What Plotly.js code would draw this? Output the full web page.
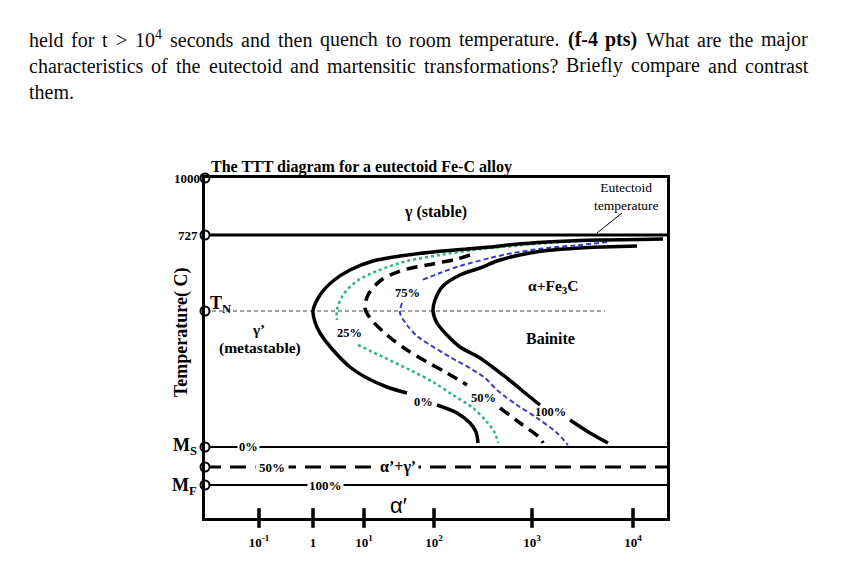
<!DOCTYPE html>
<html><head><meta charset="utf-8">
<script src="https://cdn.plot.ly/plotly-3.0.1.min.js"></script>
<style>html,body{margin:0;padding:0;background:#fff}#chart{width:851px;height:584px}</style>
</head><body><div id="chart"></div>
<script>
// ---------- data (diagram units: x = schematic log-time position, y = schematic temperature position) ----------
const xRange = [0, 462];
const yRange = [0, 340];
const tickPos = [54, 108, 159, 229, 327, 428];
const tickText = ['10<sup>-1</sup>', '1', '10<sup>1</sup>', '10<sup>2</sup>', '10<sup>3</sup>', '10<sup>4</sup>'];
// levels: 1000, 727, T_N, M_S, 50% martensite, M_F
const levelNames = ['1000', '727', 'T_N', 'M_S', '50%', 'M_F'];
const levelY = [340, 283, 207, 71, 51, 33];
const tnLineEnd = 400;

// 0% transformation curve (solid black)
const c0X = [458,435,398,375,342,308,285,262,228,195,168,145,128,115,108,110,115,128,145,162,182,202,null,232,252,265,271,273];
const c0Y = [279,278.5,278,277.5,276,273.5,271,269,266,262,257,248,237,223,207,196,185,168,151,140,131,125,null,113,105,95,86,75];
// 25% (green dotted)
const c25X = [402,375,342,308,285,268,235,202,172,152,138,132,132,null,153,178,205,228,248,268,282,290,293];
const c25Y = [278,277,275,272,270,268,263,257,247,237,223,208,198,null,173,161,148,136,123,110,96,85,75];
// 50% (black dashed)
const c50X = [265,252,222,195,175,163,160,165,182,202,222,242,262,null,295,315,335,338];
const c50Y = [263,259,253,247,237,223,210,200,183,168,156,145,133,null,110,95,80,75];
// 75% (blue dashed)
const c75X = [402,375,342,308,285,255,235,217,null,197,195,202,212,222,245,268,280,292,312,332,352,363];
const c75Y = [276,273,270,265,260,252,245,238,null,215,205,193,182,175,161,148,140,128,113,100,85,73];
// 100% (solid black)
const c100X = [432,398,375,342,325,308,292,275,255,238,230,228,232,242,255,275,303,325,335,null,365,385,403];
const c100Y = [272,271,270,267.5,265,261.5,257,250,243,232,218,207,195,183,171,160,139,121,113,null,98,85,75];

// ---------- paragraph text ----------
const paraLine1 = ['held','for','t','>','10<sup>4</sup>','seconds','and','then','quench','to','room','temperature.','(f-4','pts)','What','are','the','major'];
const paraLine2 = ['characteristics','of','the','eutectoid','and','martensitic','transformations?','Briefly','compare','and','contrast'];
const paraLine3 = ['them.'];
const boldWords = ['(f-4', 'pts)'];

const SERIF = '"Liberation Serif", "Times New Roman", serif';
const SANS = '"Liberation Sans", Arial, sans-serif';

// pixel geometry of the plot area
const L = 205, T = 178, W = 462, H = 340;
const px2paperX = px => (px - L) / W;
const px2paperY = py => (T + H - py) / H;

const cv = document.createElement('canvas').getContext('2d');
function measure(word, bold, size) {
  cv.font = (bold ? 'bold ' : '') + size + 'px "Liberation Serif"';
  const m = word.match(/^(.*?)<sup>(.*?)<\/sup>(.*)$/);
  if (m) return cv.measureText(m[1] + m[3]).width + 0.7 * cv.measureText(m[2]).width;
  return cv.measureText(word).width;
}
const annotations = [];
function paraLine(words, bottomPx, justify) {
  const size = 20, left = 28, right = 807;
  const ws = words.map(w => measure(w, boldWords.includes(w), size));
  const total = ws.reduce((a, b) => a + b, 0);
  const gap = justify && words.length > 1 ? (right - left - total) / (words.length - 1) : measure(' ', false, size);
  let x = left;
  words.forEach((w, i) => {
    const bold = boldWords.includes(w);
    annotations.push({
      xref: 'paper', yref: 'paper', x: px2paperX(x), y: px2paperY(bottomPx),
      xanchor: 'left', yanchor: 'bottom', showarrow: false, borderpad: 0,
      text: bold ? '<b>' + w + '</b>' : w,
      font: {family: SERIF, size: size, color: '#0a0a0a'}
    });
    x += ws[i] + gap;
  });
}
paraLine(paraLine1, 52, true);
paraLine(paraLine2, 78, true);
paraLine(paraLine3, 104, false);

// ---------- chart labels ----------
function lab(text, x, y, size, extra) {
  return Object.assign({
    xref: 'x', yref: 'y', x: x, y: y, showarrow: false, borderpad: 1,
    text: text, font: {family: SERIF, size: size, color: '#000'}
  }, extra || {});
}
annotations.push(
  lab('<b>The TTT diagram for a eutectoid Fe-C alloy</b>', 0, 340, 16, {xanchor: 'left', yanchor: 'bottom', xshift: 4, yshift: 0}),
  lab('<b>γ (stable)</b>', 230, 306, 16),
  lab('Eutectoid<br>temperature', 421, 322, 13.5),
  lab('<b>α+Fe<sub>3</sub>C</b>', 348, 232, 15.5),
  lab('<b>Bainite</b>', 345, 180, 16),
  lab('<b>75%</b>', 202, 225, 12.5),
  lab('<b>25%</b>', 144, 185, 12.5),
  lab('<b>0%</b>', 218, 116, 12.5),
  lab('<b>50%</b>', 278, 120, 12.5),
  lab('<b>100%</b>', 345, 106, 12.5),
  lab('<b>γ’</b>', 53, 188, 15),
  lab('<b>(metastable)</b>', 55, 170, 15.5),
  lab('<b>T<sub>N</sub></b>', 0, 214, 18, {xanchor: 'left', xshift: 3}),
  lab('<b>1000</b>', 0, levelY[0], 13, {xanchor: 'right', xshift: -3}),
  lab('<b>727</b>', 0, levelY[1], 13, {xanchor: 'right', xshift: -5}),
  lab('<b>M<sub>S</sub></b>', 0, levelY[3], 18, {xanchor: 'right', xshift: -6, yshift: 1}),
  lab('<b>M<sub>F</sub></b>', 0, levelY[5], 18, {xanchor: 'right', xshift: -6, yshift: -1}),
  lab('<b>0%</b>', 43, levelY[3], 12.5, {bgcolor: '#fff'}),
  lab('<b>50%</b>', 67, levelY[4], 13, {bgcolor: '#fff', borderpad: 3}),
  lab('<b>α’+γ’</b>', 193, levelY[4], 16, {bgcolor: '#fff', borderpad: 2}),
  lab('<b>100%</b>', 120, levelY[5], 13, {bgcolor: '#fff'}),
  lab('α′', 193, 13, 22, {font: {family: SANS, size: 22, color: '#000'}}),
  lab('<b>time (s)</b>', 230, -40, 19),
  lab('<b>Temperature( C)</b>', 0, 185, 18, {textangle: -90, xshift: -24})
);

// ---------- traces ----------
function line(x, y, color, width, dash) {
  return {x: x, y: y, type: 'scatter', mode: 'lines', hoverinfo: 'skip', cliponaxis: false,
    line: {color: color, width: width, dash: dash || 'solid', shape: 'spline', smoothing: 0.9}, connectgaps: false};
}
const traces = [
  line(xRange, [levelY[1], levelY[1]], '#000', 3),
  line([0, tnLineEnd], [levelY[2], levelY[2]], '#444', 1, '4px,3px'),
  line(xRange, [levelY[3], levelY[3]], '#000', 2),
  line(xRange, [levelY[4], levelY[4]], '#000', 3, '16px,9px'),
  line(xRange, [levelY[5], levelY[5]], '#000', 2),
  line(c25X, c25Y, '#27b38f', 2.5, 'dot'),
  line(c75X, c75Y, '#3b3bc4', 2, '5px,3px'),
  line(c50X, c50Y, '#000', 3.5, '11px,7px'),
  line(c0X, c0Y, '#000', 3.5),
  line(c100X, c100Y, '#000', 3.5),
  {x: tickPos, y: tickPos.map(() => 0), type: 'scatter', mode: 'markers', hoverinfo: 'skip', cliponaxis: false,
   marker: {symbol: 'line-ns', size: 14, line: {color: '#000', width: 3.5}}},
  {x: levelY.map(() => 0), y: levelY, type: 'scatter', mode: 'markers', hoverinfo: 'skip', cliponaxis: false,
   marker: {symbol: 'circle', size: 9, color: '#fff', line: {color: '#000', width: 2}}}
];

const layout = {
  width: 851, height: 584,
  margin: {l: L, r: 851 - L - W, t: T, b: 584 - T - H, pad: 0},
  paper_bgcolor: '#fff', plot_bgcolor: '#fff',
  showlegend: false,
  xaxis: {range: xRange, showgrid: false, zeroline: false, showline: true, mirror: true, linewidth: 3, linecolor: '#000',
    tickvals: tickPos, ticktext: tickText.map(t => '<b>' + t + '</b>'), ticks: 'outside', ticklen: 10, tickcolor: 'rgba(0,0,0,0)',
    tickfont: {family: SERIF, size: 13, color: '#000'}, fixedrange: true},
  yaxis: {range: yRange, showgrid: false, zeroline: false, showline: true, mirror: true, linewidth: 3, linecolor: '#000',
    showticklabels: false, ticks: '', fixedrange: true},
  shapes: [{type: 'line', xref: 'x', yref: 'y', x0: 392, y0: 285, x1: 417, y1: 305, line: {color: '#000', width: 1}}],
  annotations: annotations
};
Plotly.newPlot('chart', traces, layout, {displayModeBar: false, staticPlot: true});
</script></body></html>
